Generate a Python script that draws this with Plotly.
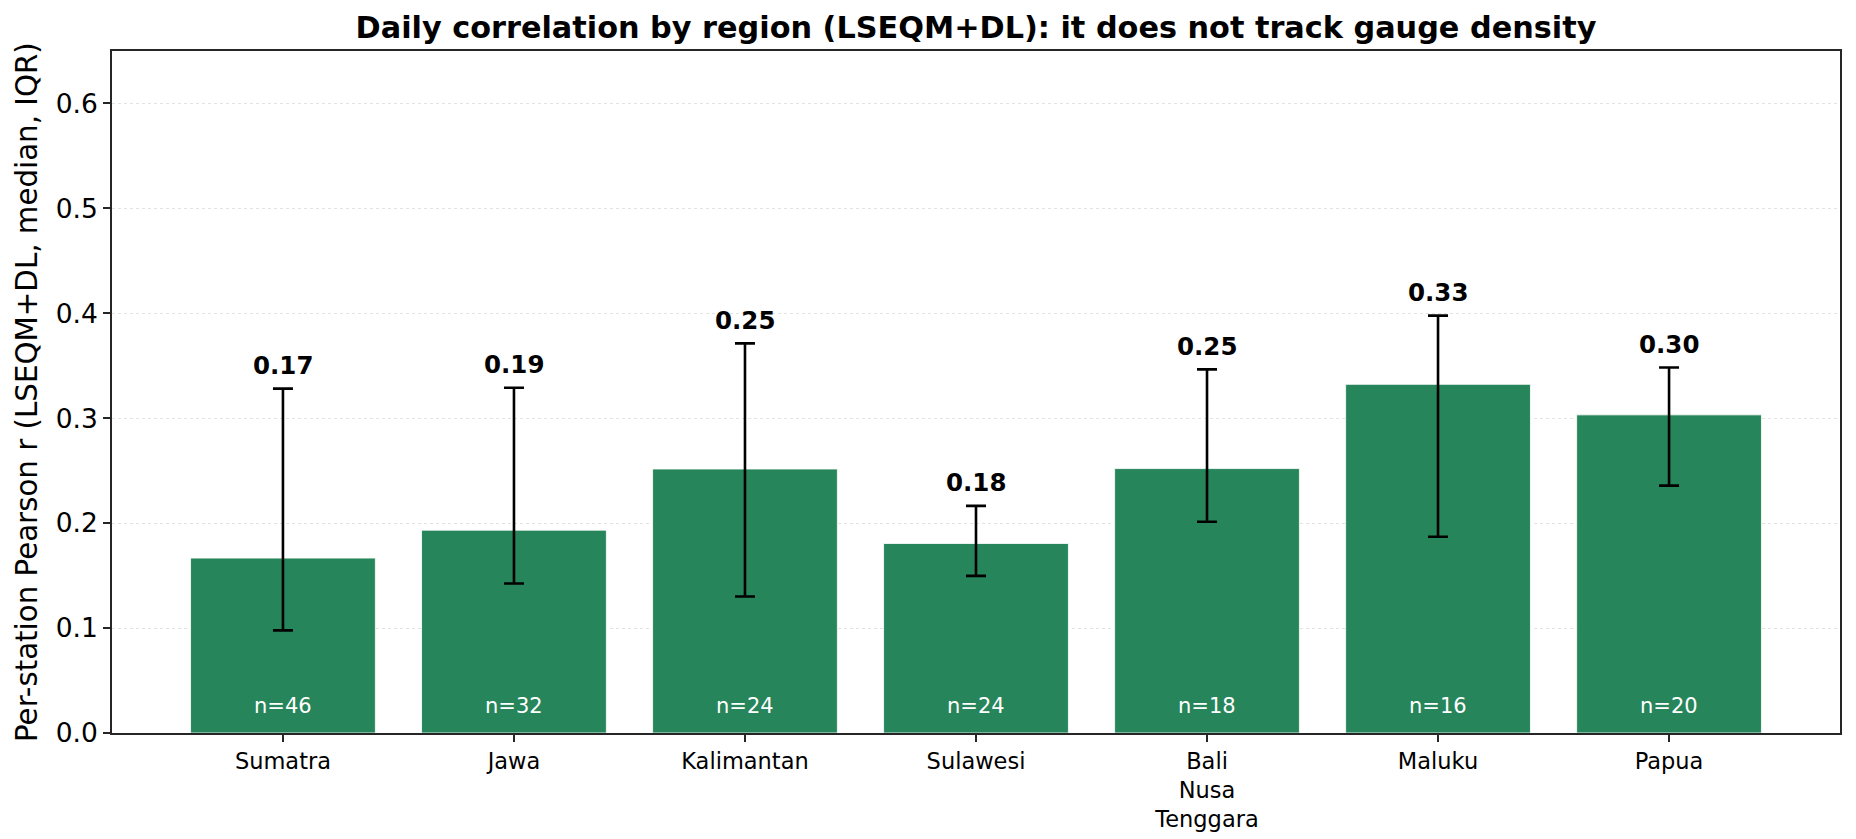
import plotly.graph_objects as go

regions = ["Sumatra", "Jawa", "Kalimantan", "Sulawesi", "Bali<br>Nusa<br>Tenggara", "Maluku", "Papua"]
median_r = [0.1667, 0.1933, 0.2516, 0.1806, 0.2520, 0.3323, 0.3032]
q25 = [0.0978, 0.1425, 0.1301, 0.1498, 0.2014, 0.1871, 0.2358]
q75 = [0.3282, 0.3290, 0.3713, 0.2165, 0.3466, 0.3978, 0.3484]
n_stations = [46, 32, 24, 24, 18, 16, 20]

BAR_COLOR = "#26855A"
FONT = "DejaVu Sans"

x_idx = list(range(len(regions)))
err_plus = [h - m for h, m in zip(q75, median_r)]
err_minus = [m - l for m, l in zip(median_r, q25)]

fig = go.Figure()
fig.add_trace(go.Bar(
    x=x_idx, y=median_r, width=0.8,
    marker=dict(color=BAR_COLOR, line=dict(color="rgba(255,255,255,0.8)", width=1)),
    error_y=dict(type="data", symmetric=False, array=err_plus, arrayminus=err_minus,
                 color="black", thickness=2.6, width=10),
    showlegend=False, hoverinfo="skip",
))

annotations = []
for i, (m, h, n) in enumerate(zip(median_r, q75, n_stations)):
    annotations.append(dict(x=i, y=h + 0.01, xref="x", yref="y", text=f"<b>{m:.2f}</b>",
                            showarrow=False, yanchor="bottom", xanchor="center",
                            font=dict(family=FONT, size=24.5, color="black"), yshift=-4))
    annotations.append(dict(x=i, y=0.02, xref="x", yref="y", text=f"n={n}",
                            showarrow=False, yanchor="bottom", xanchor="center",
                            font=dict(family=FONT, size=21, color="white"), yshift=-8))

annotations.append(dict(text="Per-station Pearson r (LSEQM+DL, median, IQR)", textangle=-90,
                        xref="paper", yref="paper", x=0, y=0.5, xanchor="center", yanchor="middle",
                        xshift=-85, showarrow=False,
                        font=dict(family=FONT, size=29.3, color="black")))

fig.update_layout(
    width=1856, height=839,
    margin=dict(l=112, r=16, t=51, b=106),
    paper_bgcolor="white", plot_bgcolor="white",
    title=dict(text="<b>Daily correlation by region (LSEQM+DL): it does not track gauge density</b>",
               x=0.5, xref="paper", xanchor="center",
               y=1 - 27 / 839, yref="container", yanchor="middle",
               font=dict(family=FONT, size=30.3, color="black")),
    annotations=annotations,
    bargap=0.2,
)

fig.update_xaxes(
    range=[-0.74, 6.74], tickmode="array", tickvals=x_idx, ticktext=regions,
    showline=True, mirror=True, linecolor="#262626", linewidth=1.7,
    ticks="outside", ticklen=7, tickwidth=1.7, tickcolor="#262626",
    tickfont=dict(family=FONT, size=22.5, color="black"),
    showgrid=False, zeroline=False, automargin=False,
)
fig.update_yaxes(
    range=[0, 0.65], tickmode="array", tickvals=[0, 0.1, 0.2, 0.3, 0.4, 0.5, 0.6],
    ticktext=["0.0", "0.1", "0.2", "0.3", "0.4", "0.5", "0.6"],
    showline=True, mirror=True, linecolor="#262626", linewidth=1.7,
    ticks="outside", ticklen=7, tickwidth=1.7, tickcolor="#262626",
    tickfont=dict(family=FONT, size=26.5, color="black"),
    showgrid=True, gridcolor="#e3e3e3", gridwidth=1, griddash="dot",
    zeroline=False, automargin=False,
)

fig.write_html("out.html")
